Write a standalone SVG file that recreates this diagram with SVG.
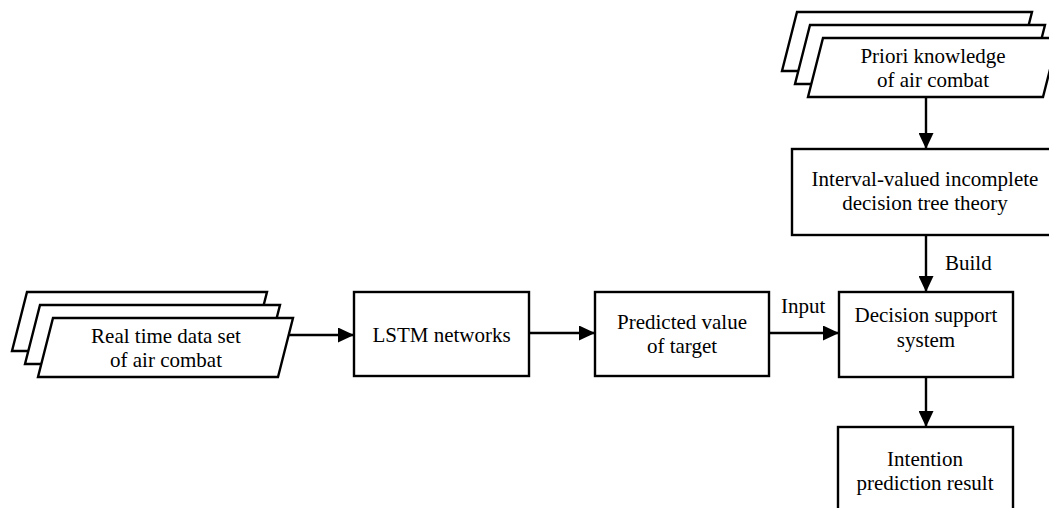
<svg xmlns="http://www.w3.org/2000/svg" width="1049" height="508" viewBox="0 0 1049 508">
  <defs>
    <marker id="arrow" viewBox="0 0 16 15" refX="16" refY="7.5" markerWidth="16" markerHeight="15" markerUnits="userSpaceOnUse" orient="auto">
      <path d="M0,0 L16,7.5 L0,15 Z" fill="#000"/>
    </marker>
    <style>
      .box { fill: #fff; stroke: #000; stroke-width: 2.4; }
      .edge { fill: none; stroke: #000; stroke-width: 2.4; marker-end: url(#arrow); }
      text { font-family: "Liberation Serif", "Times New Roman", serif; font-size: 21px; fill: #000; }
      .c { text-anchor: middle; }
    </style>
  </defs>
  <rect width="1049" height="508" fill="#fff"/>

  <!-- stacked data source: real-time set -->
  <g id="realtime-data">
    <polygon class="box" points="27,292 267,292 252,351 12,351"/>
    <polygon class="box" points="40,305 280,305 265,364 25,364"/>
    <polygon class="box" points="53,318 293,318 278,377 38,377"/>
    <text class="c" x="166" y="343">Real time data set</text>
    <text class="c" x="166" y="367">of air combat</text>
  </g>

  <g id="lstm">
    <rect class="box" x="354" y="292" width="175" height="84"/>
    <text class="c" x="441.5" y="342">LSTM networks</text>
  </g>

  <g id="predicted">
    <rect class="box" x="595" y="292" width="174" height="84"/>
    <text class="c" x="682" y="329">Predicted value</text>
    <text class="c" x="682" y="353">of target</text>
  </g>

  <!-- stacked data source: prior knowledge -->
  <g id="priori-knowledge">
    <polygon class="box" points="797,12 1032,12 1017,71 782,71"/>
    <polygon class="box" points="810,25 1045,25 1030,84 795,84"/>
    <polygon class="box" points="823,38 1058,38 1043,97 808,97"/>
    <text class="c" x="933" y="63">Priori knowledge</text>
    <text class="c" x="933" y="87">of air combat</text>
  </g>

  <g id="decision-tree">
    <rect class="box" x="792" y="149" width="270" height="86"/>
    <text class="c" x="925" y="186">Interval-valued incomplete</text>
    <text class="c" x="925" y="210">decision tree theory</text>
  </g>

  <g id="decision-support">
    <rect class="box" x="839" y="292" width="174" height="85"/>
    <text class="c" x="926" y="322">Decision support</text>
    <text class="c" x="926" y="347">system</text>
  </g>

  <g id="intention-result">
    <rect class="box" x="838" y="427" width="175" height="95"/>
    <text class="c" x="925" y="466">Intention</text>
    <text class="c" x="925" y="490">prediction result</text>
  </g>

  <g id="connectors">
    <line class="edge" x1="289" y1="335" x2="354" y2="335"/>
    <line class="edge" x1="529" y1="333" x2="595" y2="333"/>
    <line class="edge" x1="769" y1="333" x2="839" y2="333"/>
    <line class="edge" x1="926" y1="97" x2="926" y2="149"/>
    <line class="edge" x1="926" y1="235" x2="926" y2="292"/>
    <line class="edge" x1="926" y1="377" x2="926" y2="427"/>
    <text x="781" y="313">Input</text>
    <text x="945" y="270">Build</text>
  </g>
</svg>
